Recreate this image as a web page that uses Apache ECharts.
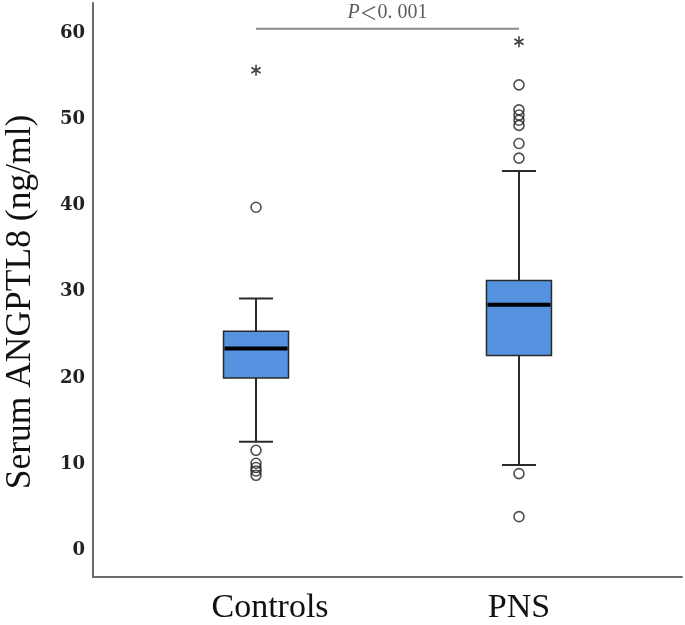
<!DOCTYPE html>
<html><head><meta charset="utf-8">
<script src="https://cdn.jsdelivr.net/npm/echarts@6/dist/echarts.min.js"></script>
<style>html,body{margin:0;padding:0;background:#fff}#c{width:685px;height:625px}</style>
</head><body><div id="c"></div>
<script>
// ---- data ----
const categories = ['Controls', 'PNS'];
const groupX = [1, 2];
const whiskerLow = [12.6, 9.9];
const q1 = [20.0, 22.6];
const median = [23.4, 28.5];
const q3 = [25.4, 31.3];
const whiskerHigh = [29.2, 44.0];
const outliersControls = [39.8, 11.6, 10.1, 9.6, 9.2, 8.7];
const outliersPNS = [54.0, 51.1, 50.5, 49.9, 49.3, 47.2, 45.5, 8.9, 3.9];
const extremesControls = [55.7];
const extremesPNS = [59.0];
const yTicks = [0, 10, 20, 30, 40, 50, 60];
const yTitle = 'Serum ANGPTL8 (ng/ml)';
const pText = 'P＜0. 001';
const pBracketY = 60.5;

// ---- build ----
const boxData = categories.map((c, i) => [groupX[i], whiskerLow[i], q1[i], median[i], q3[i], whiskerHigh[i]]);
const outlierData = outliersControls.map(v => [groupX[0], v]).concat(outliersPNS.map(v => [groupX[1], v]));
const extremeData = extremesControls.map(v => [groupX[0], v]).concat(extremesPNS.map(v => [groupX[1], v]));
const starPath = 'path://M-0.15,-1L0.15,-1L0.15,1L-0.15,1Z' +
  'M-0.941,-0.37L-0.791,-0.63L0.941,0.37L0.791,0.63Z' +
  'M0.791,-0.63L0.941,-0.37L-0.791,0.63L-0.941,0.37Z';

const chart = echarts.init(document.getElementById('c'), null, {renderer: 'canvas'});
const stroke = '#2a2a2a';
chart.setOption({
  animation: false,
  backgroundColor: '#fff',
  grid: {left: 93, right: 3, top: 3, bottom: 48},
  xAxis: {
    type: 'value', min: 0.38, max: 2.62,
    splitLine: {show: false}, axisTick: {show: false},
    axisLine: {onZero: false, lineStyle: {color: '#6b6b6b', width: 2}},
    axisLabel: {
      margin: 14, color: '#111',
      fontFamily: 'Liberation Serif', fontSize: 34,
      formatter: function (v) {
        for (let i = 0; i < groupX.length; i++) {
          if (Math.abs(v - groupX[i]) < 1e-6) return i === 0 ? '{a|' + categories[i] + '}' : categories[i];
        }
        return '';
      },
      rich: {a: {fontFamily: 'Liberation Serif', fontSize: 34, color: '#111', padding: [0, 0, 0, 28]}}
    }
  },
  yAxis: {
    type: 'value', min: -3.1, max: 63.5,
    splitLine: {show: false}, axisTick: {show: false},
    axisLine: {show: true, onZero: false, lineStyle: {color: '#6b6b6b', width: 2}},
    axisLabel: {
      margin: 8, color: '#222',
      fontFamily: 'DejaVu Serif', fontWeight: 'bold', fontSize: 18,
      formatter: function (v) {
        for (const t of yTicks) if (Math.abs(v - t) < 1e-6) return String(t);
        return '';
      }
    }
  },
  graphic: [{
    type: 'text', x: 21, y: 302, rotation: Math.PI / 2,
    style: {text: yTitle, font: '35.5px "Liberation Serif"', fill: '#111', textAlign: 'center', textVerticalAlign: 'middle'}
  }],
  series: [
    {
      type: 'custom',
      data: boxData,
      encode: {x: 0, y: [1, 2, 3, 4, 5]},
      z: 2,
      renderItem: function (params, api) {
        const x = api.value(0);
        const pLow = api.coord([x, api.value(1)]);
        const pQ1 = api.coord([x, api.value(2)]);
        const pMed = api.coord([x, api.value(3)]);
        const pQ3 = api.coord([x, api.value(4)]);
        const pHigh = api.coord([x, api.value(5)]);
        const cx = pMed[0];
        const boxW = 65, capW = 34;
        return {
          type: 'group', children: [
            {type: 'line', shape: {x1: cx, y1: pHigh[1], x2: cx, y2: pQ3[1]}, style: {stroke: stroke, lineWidth: 2}},
            {type: 'line', shape: {x1: cx, y1: pQ1[1], x2: cx, y2: pLow[1]}, style: {stroke: stroke, lineWidth: 2}},
            {type: 'line', shape: {x1: cx - capW / 2, y1: pHigh[1], x2: cx + capW / 2, y2: pHigh[1]}, style: {stroke: stroke, lineWidth: 2}},
            {type: 'line', shape: {x1: cx - capW / 2, y1: pLow[1], x2: cx + capW / 2, y2: pLow[1]}, style: {stroke: stroke, lineWidth: 2}},
            {type: 'rect', shape: {x: cx - boxW / 2, y: pQ3[1], width: boxW, height: pQ1[1] - pQ3[1]}, style: {fill: '#5593E0', stroke: stroke, lineWidth: 1.5}},
            {type: 'line', shape: {x1: cx - boxW / 2 + 1, y1: pMed[1], x2: cx + boxW / 2 - 1, y2: pMed[1]}, style: {stroke: '#000', lineWidth: 4}}
          ]
        };
      }
    },
    {
      type: 'scatter', data: outlierData, z: 3,
      symbol: 'circle', symbolSize: 10,
      itemStyle: {color: 'rgba(0,0,0,0)', borderColor: '#222', borderWidth: 1.6}
    },
    {
      type: 'scatter', data: extremeData, z: 3,
      symbol: starPath, symbolSize: [10, 11],
      itemStyle: {color: '#111'}
    },
    {
      type: 'line', data: [[groupX[0], pBracketY], [groupX[1], pBracketY]], z: 3,
      symbol: 'none', lineStyle: {color: '#8a8a8a', width: 2}
    },
    {
      type: 'scatter', data: [[(groupX[0] + groupX[1]) / 2, pBracketY]], z: 3,
      symbolSize: 0,
      label: {
        show: true, position: 'top', distance: 6,
        formatter: '{i|' + pText.slice(0, 1) + '}{s|' + pText.slice(1, 2) + '}{n|' + pText.slice(2) + '}',
        rich: {
          i: {fontFamily: 'Liberation Serif', fontStyle: 'italic', fontSize: 20, color: '#333'},
          s: {fontFamily: 'Noto Sans CJK SC', fontSize: 18, color: '#333'},
          n: {fontFamily: 'Liberation Serif', fontSize: 20, color: '#333'}
        }
      }
    }
  ]
});
</script>
</body></html>
